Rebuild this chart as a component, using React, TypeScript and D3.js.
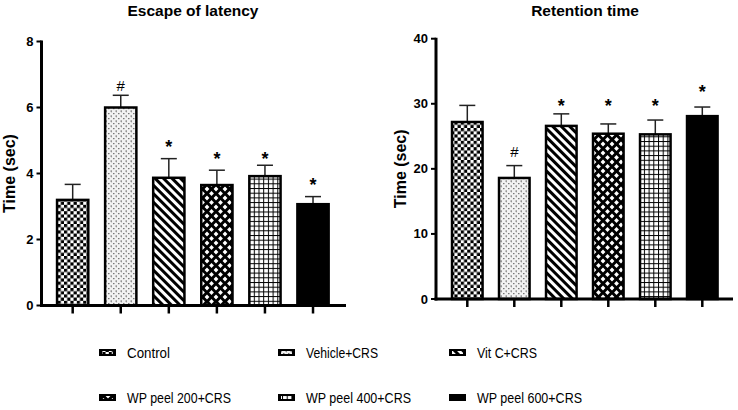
import React from "react";
import * as d3 from "d3";

const groups = ["Control", "Vehicle+CRS", "Vit C+CRS", "WP peel 200+CRS", "WP peel 400+CRS", "WP peel 600+CRS"];
const patternIds = ["pChecker", "pDots", "pDiag", "pDiamond", "pGrid", "pSolid"];
const legendTextWidth = [43, 72, 60, 104, 105, 105];

// Escape of latency
const latencyMean = [3.2, 6.0, 3.87, 3.65, 3.92, 3.07];
const latencyErr = [0.47, 0.37, 0.58, 0.45, 0.33, 0.23];
const latencyMark = ["", "#", "*", "*", "*", "*"];
const latencyMarkLevel = [0, 6.68, 4.95, 4.58, 4.58, 3.8];
const latencyTicks = [0, 2, 4, 6, 8];

// Retention time
const retentionMean = [27.2, 18.6, 26.6, 25.4, 25.3, 28.1];
const retentionErr = [2.55, 1.9, 1.85, 1.5, 2.2, 1.4];
const retentionMark = ["", "#", "*", "*", "*", "*"];
const retentionMarkLevel = [0, 22.6, 30.3, 30.3, 30.3, 32.5];
const retentionTicks = [0, 10, 20, 30, 40];

const FONT = "'Liberation Sans', Arial, Helvetica, sans-serif";

type PanelProps = {
  title: string;
  titleX: number;
  mean: number[];
  err: number[];
  marks: string[];
  markLevel: number[];
  ticks: number[];
  yMax: number;
  axisX: number;
  axisEnd: number;
  yTop: number;
  yBottom: number;
  bandRange: [number, number];
  labelX: number;
};

function Panel(p: PanelProps) {
  const y = d3.scaleLinear().domain([0, p.yMax]).range([p.yBottom, p.yTop]);
  const x = d3
    .scaleBand<string>()
    .domain(groups)
    .range(p.bandRange)
    .paddingInner(0.35)
    .paddingOuter(0.175);
  const bw = x.bandwidth();
  return (
    <g>
      <text x={p.titleX} y={15.5} textAnchor="middle" fontFamily={FONT} fontWeight="bold" fontSize={15.5}>
        {p.title}
      </text>
      <text
        transform={`translate(${p.labelX},${(p.yTop + p.yBottom) / 2}) rotate(-90)`}
        textAnchor="middle"
        dominantBaseline="central"
        fontFamily={FONT}
        fontWeight="bold"
        fontSize={16}
      >
        Time (sec)
      </text>
      {groups.map((g, i) => {
        const cx = (x(g) as number) + bw / 2;
        const top = y(p.mean[i]);
        const et = y(p.mean[i] + p.err[i]);
        return (
          <g key={g}>
            <line x1={cx} x2={cx} y1={top} y2={et} stroke="#222" strokeWidth={1.5} />
            <line x1={cx - 8} x2={cx + 8} y1={et} y2={et} stroke="#222" strokeWidth={1.5} />
            <rect
              x={x(g)}
              y={top}
              width={bw}
              height={p.yBottom - top}
              fill={`url(#${patternIds[i]})`}
              stroke="#000"
              strokeWidth={2.5}
            />
            {p.marks[i] === "#" && (
              <text x={cx} y={y(p.markLevel[i]) + 5.5} textAnchor="middle" fontFamily={FONT} fontSize={15}>
                #
              </text>
            )}
            {p.marks[i] === "*" && (
              <text x={cx} y={y(p.markLevel[i]) + 10.5} textAnchor="middle" fontFamily={FONT} fontWeight="bold" fontSize={18}>
                *
              </text>
            )}
            <line x1={cx} x2={cx} y1={p.yBottom} y2={p.yBottom + 8} stroke="#000" strokeWidth={2.5} />
          </g>
        );
      })}
      {p.ticks.map((t) => (
        <g key={t}>
          <line x1={p.axisX - 5} x2={p.axisX} y1={y(t)} y2={y(t)} stroke="#000" strokeWidth={2} />
          <text
            x={p.axisX - 8}
            y={y(t)}
            textAnchor="end"
            dominantBaseline="central"
            fontFamily={FONT}
            fontWeight="bold"
            fontSize={13}
          >
            {t}
          </text>
        </g>
      ))}
      <line x1={p.axisX} x2={p.axisX} y1={p.yTop - 1} y2={p.yBottom + 1.5} stroke="#000" strokeWidth={3} />
      <line x1={p.axisX - 1.5} x2={p.axisEnd} y1={p.yBottom} y2={p.yBottom} stroke="#000" strokeWidth={3} />
    </g>
  );
}

const legendCols = [99, 278, 449];
const legendRows = [353, 398];

function Patterns() {
  return (
    <defs>
      <pattern id="pChecker" patternUnits="userSpaceOnUse" width={6.4} height={6.4}>
        <rect width={6.4} height={6.4} fill="#fff" />
        <rect width={3.2} height={3.2} fill="#000" />
        <rect x={3.2} y={3.2} width={3.2} height={3.2} fill="#000" />
      </pattern>
      <pattern id="pDots" patternUnits="userSpaceOnUse" width={5} height={5}>
        <rect width={5} height={5} fill="#f2f2f2" />
        <rect x={0.5} y={0.5} width={1.5} height={1.2} fill="#666" />
        <rect x={3} y={3} width={1.5} height={1.2} fill="#777" />
        <rect x={1.2} y={1.6} width={0.8} height={0.8} fill="#999" />
      </pattern>
      <pattern id="pDiag" patternUnits="userSpaceOnUse" width={6} height={6} patternTransform="rotate(-45)">
        <rect width={6} height={6} fill="#fff" />
        <rect width={3} height={6} fill="#000" />
      </pattern>
      <pattern id="pDiamond" patternUnits="userSpaceOnUse" width={9} height={9}>
        <rect width={9} height={9} fill="#000" />
        <path d="M4.5,2.1 L6.9,4.5 L4.5,6.9 L2.1,4.5 Z" fill="#fff" />
        <path d="M0,-2.4 L2.4,0 L0,2.4 L-2.4,0 Z M9,-2.4 L11.4,0 L9,2.4 L6.6,0 Z M0,6.6 L2.4,9 L0,11.4 L-2.4,9 Z M9,6.6 L11.4,9 L9,11.4 L6.6,9 Z" fill="#fff" />
      </pattern>
      <pattern id="pGrid" patternUnits="userSpaceOnUse" width={4.7} height={4.7}>
        <rect width={4.7} height={4.7} fill="#fff" />
        <rect width={1} height={4.7} fill="#000" />
        <rect width={4.7} height={1} fill="#000" />
      </pattern>
      <pattern id="pSolid" patternUnits="userSpaceOnUse" width={4} height={4}>
        <rect width={4} height={4} fill="#000" />
      </pattern>
    </defs>
  );
}

export default function App() {
  return (
    <svg
      width={738}
      height={410}
      style={{ position: "absolute", left: 0, top: 0, background: "#fff" }}
    >
      <Patterns />
      <Panel
        title="Escape of latency"
        titleX={193}
        mean={latencyMean}
        err={latencyErr}
        marks={latencyMark}
        markLevel={latencyMarkLevel}
        ticks={latencyTicks}
        yMax={8}
        axisX={41.5}
        axisEnd={346}
        yTop={41.5}
        yBottom={305.5}
        bandRange={[48.65, 337.05]}
        labelX={9}
      />
      <Panel
        title="Retention time"
        titleX={585}
        mean={retentionMean}
        err={retentionErr}
        marks={retentionMark}
        markLevel={retentionMarkLevel}
        ticks={retentionTicks}
        yMax={40}
        axisX={436}
        axisEnd={733}
        yTop={38.7}
        yBottom={299}
        bandRange={[443.8, 725.8]}
        labelX={400}
      />
      {groups.map((g, i) => {
        const cx = legendCols[i % 3];
        const cy = legendRows[Math.floor(i / 3)];
        return (
          <g key={g}>
            <rect x={cx} y={cy - 4} width={17} height={7} fill="#000" />
            {i < 5 && (
              <rect x={cx + 3} y={cy - 2} width={11} height={3} fill={`url(#${patternIds[i]})`} />
            )}
            <text
              x={cx + 28}
              y={cy}
              dominantBaseline="central"
              fontFamily={FONT}
              fontSize={14.5}
              textLength={legendTextWidth[i]}
              lengthAdjust="spacingAndGlyphs"
            >
              {g}
            </text>
          </g>
        );
      })}
    </svg>
  );
}
